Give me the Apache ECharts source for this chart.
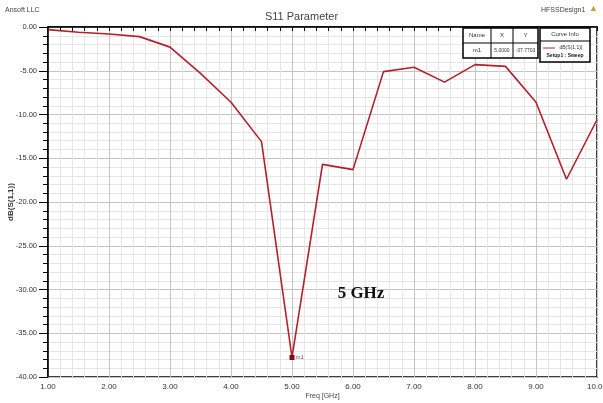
<!DOCTYPE html>
<html>
<head>
<meta charset="utf-8">
<script src="https://cdn.jsdelivr.net/npm/echarts@6/dist/echarts.min.js"></script>
<style>
  html, body { margin: 0; padding: 0; background: #fff; }
  #chart { width: 603px; height: 403px; }
</style>
</head>
<body>
<div id="chart"></div>
<script>
// frequency sweep points, GHz
var freqs = [1.0, 1.5, 2.0, 2.5, 3.0, 3.5, 4.0, 4.5, 5.0, 5.5, 6.0, 6.5, 7.0, 7.5, 8.0, 8.5, 9.0, 9.5, 10.0];
// dB(S(1,1))
var s11 = [-0.3, -0.6, -0.8, -1.1, -2.3, -5.3, -8.6, -13.1, -37.77, -15.7, -16.3, -5.1, -4.6, -6.3, -4.3, -4.5, -8.6, -17.4, -10.6];
// marker table
var markerName = 'm1';
var markerX = '5.0000';
var markerY = '-37.7703';

var narrow = '"Liberation Sans Narrow", "Arial Narrow", "Liberation Sans", sans-serif';
var lineColor = '#b3202c';

var points = [];
for (var i = 0; i < freqs.length; i++) {
    points.push([freqs[i], s11[i]]);
}

// small helper for the table texts
function cell(x, y, txt, size, extra) {
    var st = { text: txt, fontSize: size, fill: '#333', align: 'center', verticalAlign: 'middle', fontFamily: narrow };
    if (extra) { for (var k in extra) st[k] = extra[k]; }
    return { type: 'text', x: x, y: y, z: 101, style: st };
}

var chart = echarts.init(document.getElementById('chart'));
var option = {
    backgroundColor: '#fff',
    animation: false,
    title: {
        text: 'S11 Parameter',
        left: 'center',
        top: 6,
        textStyle: { fontSize: 11, fontWeight: 'normal', color: '#444', fontFamily: narrow }
    },
    grid: {
        left: 48, right: 6, top: 27, bottom: 26,
        outerBoundsMode: 'none', containLabel: false,
        show: true, borderColor: '#000', borderWidth: 1.5
    },
    xAxis: {
        type: 'value',
        min: 1, max: 10, interval: 1,
        name: 'Freq [GHz]',
        nameLocation: 'middle',
        nameGap: 16,
        nameMoveOverlap: false,
        nameTextStyle: { fontSize: 7, color: '#444', fontFamily: narrow },
        axisLine: { lineStyle: { color: '#000', width: 1.5 } },
        axisTick: { show: true, length: 4, lineStyle: { color: '#000' } },
        minorTick: { show: true, splitNumber: 5, length: 4, lineStyle: { color: '#000' } },
        axisLabel: {
            fontSize: 8, color: '#333', fontFamily: narrow, margin: 6,
            formatter: function (v) { return v.toFixed(2); }
        },
        splitLine: { show: true, lineStyle: { color: '#c4c4c4', width: 1 } },
        minorSplitLine: { show: true, lineStyle: { color: '#e6e6e6', width: 1 } }
    },
    yAxis: {
        type: 'value',
        min: -40, max: 0, interval: 5,
        name: 'dB(S(1,1))',
        nameLocation: 'middle',
        nameRotate: 90,
        nameGap: 33,
        nameMoveOverlap: false,
        nameTextStyle: { fontSize: 8, fontWeight: 'bold', color: '#333', fontFamily: narrow },
        axisLine: { lineStyle: { color: '#000', width: 1.5 } },
        axisTick: { show: true, length: 9, lineStyle: { color: '#000' } },
        minorTick: { show: true, splitNumber: 5, length: 5, lineStyle: { color: '#000' } },
        axisLabel: {
            fontSize: 7.5, color: '#333', fontFamily: narrow, margin: 11,
            formatter: function (v) { return v.toFixed(2); }
        },
        splitLine: { show: true, lineStyle: { color: '#c4c4c4', width: 1 } },
        minorSplitLine: { show: true, lineStyle: { color: '#e6e6e6', width: 1 } }
    },
    series: [
        {
            name: 'dB(S(1,1))',
            type: 'line',
            data: points,
            showSymbol: false,
            lineStyle: { color: lineColor, width: 1.6 },
            itemStyle: { color: lineColor },
            markPoint: {
                symbol: 'rect',
                symbolSize: 5,
                itemStyle: { color: '#7a0f18' },
                label: {
                    show: true, position: 'right', distance: 1,
                    formatter: markerName, fontSize: 6, color: '#555', fontFamily: narrow
                },
                data: [{ coord: [freqs[8], s11[8]] }]
            }
        }
    ],
    graphic: [
        { type: 'text', left: 5, top: 7, z: 101, style: { text: 'Ansoft LLC', fontSize: 7, fill: '#444', fontFamily: narrow } },
        { type: 'text', left: 541, top: 7, z: 101, style: { text: 'HFSSDesign1', fontSize: 7, fill: '#444', fontFamily: narrow } },
        { type: 'text', left: 589, top: 4, z: 101, style: { text: '\u25B2', fontSize: 9, fill: '#c9a030' } },
        // marker table
        { type: 'rect', z: 100, shape: { x: 463, y: 28, width: 75, height: 30 }, style: { fill: '#fff', stroke: '#000', lineWidth: 1.5 } },
        { type: 'line', z: 101, shape: { x1: 463, y1: 43, x2: 538, y2: 43 }, style: { stroke: '#000', lineWidth: 1 } },
        { type: 'line', z: 101, shape: { x1: 491, y1: 28, x2: 491, y2: 58 }, style: { stroke: '#000', lineWidth: 1 } },
        { type: 'line', z: 101, shape: { x1: 513, y1: 28, x2: 513, y2: 58 }, style: { stroke: '#000', lineWidth: 1 } },
        cell(477, 35.5, 'Name', 6),
        cell(502, 35.5, 'X', 6),
        cell(525.5, 35.5, 'Y', 6),
        cell(477, 50.5, markerName, 6),
        cell(502, 50.5, markerX, 5),
        cell(525.5, 50.5, markerY, 5),
        // curve info box
        { type: 'rect', z: 100, shape: { x: 540, y: 28, width: 50, height: 34 }, style: { fill: '#fff', stroke: '#000', lineWidth: 1.5 } },
        { type: 'line', z: 101, shape: { x1: 540, y1: 41, x2: 590, y2: 41 }, style: { stroke: '#000', lineWidth: 1 } },
        cell(565, 34.5, 'Curve Info', 6),
        { type: 'line', z: 101, shape: { x1: 543, y1: 48, x2: 555, y2: 48 }, style: { stroke: lineColor, lineWidth: 1 } },
        cell(571, 48, 'dB(S(1,1))', 5),
        cell(565, 56, 'Setup1 : Sweep', 5, { fill: '#222', fontWeight: 'bold' }),
        // annotation
        { type: 'text', x: 361, y: 294, z: 101, style: { text: '5 GHz', fontSize: 17, fontWeight: 'bold', fill: '#111', align: 'center', verticalAlign: 'middle', fontFamily: '"Liberation Serif", "Times New Roman", serif' } }
    ]
};
chart.setOption(option);
</script>
</body>
</html>
